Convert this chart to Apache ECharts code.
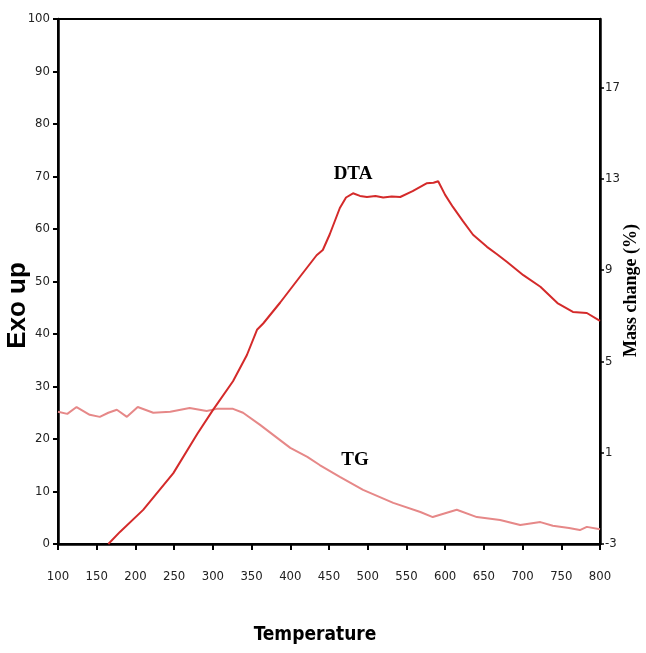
<!DOCTYPE html>
<html style="height: 100%">
<head>
    <meta charset="utf-8">
</head>
<body style="height: 100%; margin: 0; background: #fff">
<div id="dta_tg_container" style="width: 646px; height: 653px"></div>
<script src="https://cdn.jsdelivr.net/npm/echarts@6/dist/echarts.min.js"></script>
<script type="text/javascript">

    // DTA curve, left axis (Exo up)
    var dtaTemp = [165, 180, 210, 249, 280, 300, 326, 344, 357, 365, 387, 413, 434, 442, 451, 464, 472, 481, 490, 499,
        510, 520, 531, 542, 558, 576, 585, 591, 600, 610, 623, 636, 654, 667, 680, 701, 723, 745, 765, 783, 800];
    var dtaVal = [0, 2.3, 6.5, 13.5, 21, 25.5, 31, 36, 40.8, 42, 46, 51, 55, 56, 59, 64, 66, 66.8, 66.3, 66.1,
        66.3, 66, 66.2, 66.1, 67.2, 68.7, 68.8, 69.1, 66.5, 64.2, 61.5, 58.9, 56.6, 55.2, 53.7, 51.2, 49, 45.9, 44.2, 44, 42.5];

    // TG curve, right axis (Mass change %)
    var tgTemp = [100, 112, 124, 141, 154, 165, 176, 189, 203, 223, 245, 270, 292, 305, 326, 339, 361, 383, 400, 422,
        438, 464, 494, 533, 568, 584, 600, 615, 641, 671, 697, 723, 739, 760, 774, 783, 800];
    var tgVal = [2.79, 2.7, 3.0, 2.66, 2.57, 2.75, 2.88, 2.57, 3.0, 2.75, 2.79, 2.96, 2.83, 2.92, 2.92, 2.75, 2.22, 1.65, 1.21, 0.82,
        0.46, -0.06, -0.63, -1.2, -1.6, -1.82, -1.65, -1.5, -1.82, -1.95, -2.17, -2.04, -2.2, -2.3, -2.39, -2.25, -2.35];

    var massTicks = [-3, 1, 5, 9, 13, 17];

    function pairs(xs, ys) {
        var out = [];
        for (var i = 0; i < xs.length; i++) out.push([xs[i], ys[i]]);
        return out;
    }

    var narrowFont = '"Liberation Sans Narrow", "Arial Narrow", "DejaVu Sans Condensed", sans-serif';
    var tickFont = {fontFamily: narrowFont, fontSize: 13, color: '#222'};

    var option = {
        backgroundColor: '#fff',
        animation: false,
        grid: {
            left: 58, right: 46, top: 19, bottom: 109,
            outerBoundsMode: 'none',
            containLabel: false,
            show: true, borderColor: '#000', borderWidth: 2
        },
        xAxis: {
            type: 'value',
            min: 100, max: 800, interval: 50,
            name: 'Temperature',
            nameLocation: 'middle',
            nameGap: 82,
            nameMoveOverlap: false,
            nameTextStyle: {fontFamily: narrowFont, fontWeight: 'bold', fontSize: 19, color: '#000', padding: [0, 28, 0, 0]},
            axisLine: {lineStyle: {color: '#000', width: 2.5}},
            axisTick: {length: 6, lineStyle: {color: '#000', width: 2}},
            axisLabel: Object.assign({margin: 26}, tickFont),
            splitLine: {show: false}
        },
        yAxis: [
            {
                type: 'value',
                min: 0, max: 100, interval: 10,
                name: 'Exo up',
                nameLocation: 'middle',
                nameRotate: 90,
                nameGap: 27,
                nameMoveOverlap: false,
                nameTextStyle: {fontFamily: '"Liberation Sans", Arial, sans-serif', fontWeight: 'bold', fontSize: 26, color: '#000', padding: [0, 48, 0, 0]},
                axisLine: {show: true, lineStyle: {color: '#000', width: 2.5}},
                axisTick: {show: true, length: 5, lineStyle: {color: '#000', width: 2}},
                axisLabel: Object.assign({margin: 8}, tickFont),
                splitLine: {show: false}
            },
            {
                type: 'value',
                position: 'right',
                min: -3, max: 20,
                name: 'Mass change (%)',
                nameLocation: 'middle',
                nameRotate: 90,
                nameGap: 22,
                nameMoveOverlap: false,
                nameTextStyle: {fontFamily: '"Liberation Serif", "Times New Roman", serif', fontWeight: 'bold', fontSize: 18, color: '#000', padding: [0, 18, 0, 0]},
                axisLine: {show: true, lineStyle: {color: '#000', width: 2.5}},
                axisTick: {show: true, length: 4, customValues: massTicks, lineStyle: {color: '#000', width: 1.5}},
                axisLabel: Object.assign({margin: 5, customValues: massTicks}, tickFont),
                splitLine: {show: false}
            }
        ],
        graphic: [
            {
                type: 'text', x: 353, y: 174,
                style: {text: 'DTA', font: 'bold 19px "Liberation Serif", serif', fill: '#000', align: 'center', verticalAlign: 'middle'}
            },
            {
                type: 'text', x: 355, y: 460,
                style: {text: 'TG', font: 'bold 19px "Liberation Serif", serif', fill: '#000', align: 'center', verticalAlign: 'middle'}
            }
        ],
        series: [
            {
                name: 'TG',
                type: 'line',
                yAxisIndex: 1,
                showSymbol: false,
                lineStyle: {color: '#e68888', width: 2},
                data: pairs(tgTemp, tgVal)
            },
            {
                name: 'DTA',
                type: 'line',
                yAxisIndex: 0,
                showSymbol: false,
                lineStyle: {color: '#d42a2a', width: 2},
                data: pairs(dtaTemp, dtaVal)
            }
        ]
    };

    var chart = echarts.init(document.getElementById('dta_tg_container'));
    chart.setOption(option);
</script>
</body>
</html>
